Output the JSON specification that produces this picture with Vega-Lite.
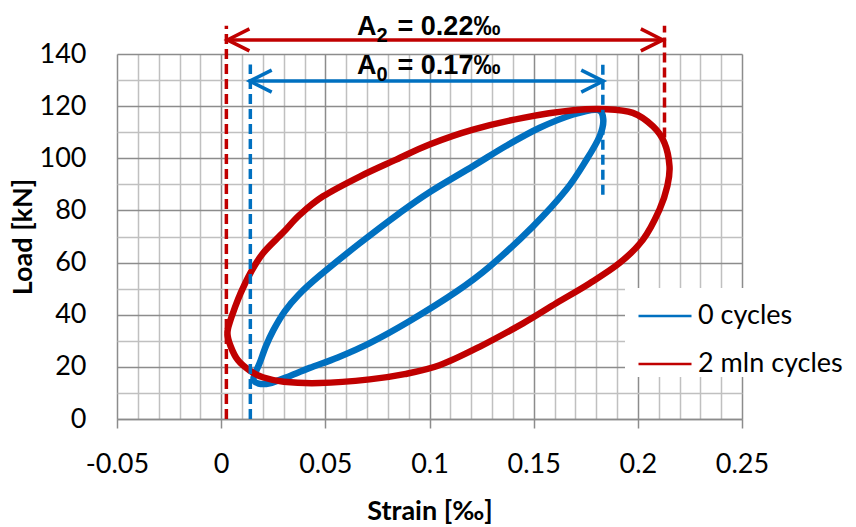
{
  "$schema": "https://vega.github.io/schema/vega-lite/v6.json",
  "width": 625,
  "height": 365,
  "autosize": {"type": "none"},
  "padding": {"left": 117, "top": 54, "right": 114, "bottom": 108},
  "background": "white",
  "config": {"view": {"stroke": null}, "font": "Lato"},
  "datasets": {
    "loops": [
      {"series": "0 cycles", "i": 1, "strain": 0.0155, "load": 15.5},
      {"series": "0 cycles", "i": 2, "strain": 0.0185, "load": 21.5},
      {"series": "0 cycles", "i": 3, "strain": 0.0215, "load": 28},
      {"series": "0 cycles", "i": 4, "strain": 0.025, "load": 34},
      {"series": "0 cycles", "i": 5, "strain": 0.0305, "load": 41.3},
      {"series": "0 cycles", "i": 6, "strain": 0.037, "load": 47.5},
      {"series": "0 cycles", "i": 7, "strain": 0.0473, "load": 55},
      {"series": "0 cycles", "i": 8, "strain": 0.0665, "load": 67.4},
      {"series": "0 cycles", "i": 9, "strain": 0.0856, "load": 79},
      {"series": "0 cycles", "i": 10, "strain": 0.1, "load": 87},
      {"series": "0 cycles", "i": 11, "strain": 0.1209, "load": 97},
      {"series": "0 cycles", "i": 12, "strain": 0.1369, "load": 104.8},
      {"series": "0 cycles", "i": 13, "strain": 0.1529, "load": 111.7},
      {"series": "0 cycles", "i": 14, "strain": 0.169, "load": 116.8},
      {"series": "0 cycles", "i": 15, "strain": 0.1805, "load": 118.6},
      {"series": "0 cycles", "i": 16, "strain": 0.1834, "load": 115},
      {"series": "0 cycles", "i": 17, "strain": 0.1817, "load": 108.5},
      {"series": "0 cycles", "i": 18, "strain": 0.1754, "load": 99.5},
      {"series": "0 cycles", "i": 19, "strain": 0.1657, "load": 88},
      {"series": "0 cycles", "i": 20, "strain": 0.1497, "load": 73.9},
      {"series": "0 cycles", "i": 21, "strain": 0.1289, "load": 58.5},
      {"series": "0 cycles", "i": 22, "strain": 0.1128, "load": 48.8},
      {"series": "0 cycles", "i": 23, "strain": 0.0905, "load": 37.6},
      {"series": "0 cycles", "i": 24, "strain": 0.0713, "load": 29.1},
      {"series": "0 cycles", "i": 25, "strain": 0.0560, "load": 23.6},
      {"series": "0 cycles", "i": 26, "strain": 0.0425, "load": 19.6},
      {"series": "0 cycles", "i": 27, "strain": 0.0313, "load": 16},
      {"series": "0 cycles", "i": 28, "strain": 0.0233, "load": 13.7},
      {"series": "0 cycles", "i": 29, "strain": 0.018, "load": 13.6},
      {"series": "2 mln cycles", "i": 1, "strain": 0.003, "load": 33},
      {"series": "2 mln cycles", "i": 2, "strain": 0.0045, "load": 38},
      {"series": "2 mln cycles", "i": 3, "strain": 0.0065, "load": 42.5},
      {"series": "2 mln cycles", "i": 4, "strain": 0.0092, "load": 48},
      {"series": "2 mln cycles", "i": 5, "strain": 0.0137, "load": 55.5},
      {"series": "2 mln cycles", "i": 6, "strain": 0.020, "load": 63.5},
      {"series": "2 mln cycles", "i": 7, "strain": 0.0297, "load": 71.5},
      {"series": "2 mln cycles", "i": 8, "strain": 0.0377, "load": 78.3},
      {"series": "2 mln cycles", "i": 9, "strain": 0.0489, "load": 85.4},
      {"series": "2 mln cycles", "i": 10, "strain": 0.0665, "load": 93},
      {"series": "2 mln cycles", "i": 11, "strain": 0.084, "load": 99.5},
      {"series": "2 mln cycles", "i": 12, "strain": 0.1, "load": 105.3},
      {"series": "2 mln cycles", "i": 13, "strain": 0.1209, "load": 111},
      {"series": "2 mln cycles", "i": 14, "strain": 0.1449, "load": 115.5},
      {"series": "2 mln cycles", "i": 15, "strain": 0.169, "load": 118.4},
      {"series": "2 mln cycles", "i": 16, "strain": 0.185, "load": 118.8},
      {"series": "2 mln cycles", "i": 17, "strain": 0.1976, "load": 117.4},
      {"series": "2 mln cycles", "i": 18, "strain": 0.2072, "load": 112.3},
      {"series": "2 mln cycles", "i": 19, "strain": 0.2128, "load": 105.9},
      {"series": "2 mln cycles", "i": 20, "strain": 0.2152, "load": 97},
      {"series": "2 mln cycles", "i": 21, "strain": 0.2142, "load": 89.5},
      {"series": "2 mln cycles", "i": 22, "strain": 0.2104, "load": 80.3},
      {"series": "2 mln cycles", "i": 23, "strain": 0.2024, "load": 68.7},
      {"series": "2 mln cycles", "i": 24, "strain": 0.1912, "load": 59.8},
      {"series": "2 mln cycles", "i": 25, "strain": 0.1768, "load": 52},
      {"series": "2 mln cycles", "i": 26, "strain": 0.1608, "load": 44.4},
      {"series": "2 mln cycles", "i": 27, "strain": 0.1449, "load": 36.7},
      {"series": "2 mln cycles", "i": 28, "strain": 0.124, "load": 27.7},
      {"series": "2 mln cycles", "i": 29, "strain": 0.1048, "load": 20.6},
      {"series": "2 mln cycles", "i": 30, "strain": 0.088, "load": 17.2},
      {"series": "2 mln cycles", "i": 31, "strain": 0.0713, "load": 15.2},
      {"series": "2 mln cycles", "i": 32, "strain": 0.0473, "load": 13.8},
      {"series": "2 mln cycles", "i": 33, "strain": 0.030, "load": 14.3},
      {"series": "2 mln cycles", "i": 34, "strain": 0.020, "load": 16},
      {"series": "2 mln cycles", "i": 35, "strain": 0.0137, "load": 18.6},
      {"series": "2 mln cycles", "i": 36, "strain": 0.008, "load": 22.6},
      {"series": "2 mln cycles", "i": 37, "strain": 0.0045, "load": 28}
    ],
    "vlines": [
      {"series": "2 mln cycles", "x": 0.0025, "y": 0, "y2": 150.8},
      {"series": "2 mln cycles", "x": 0.2128, "y": 108, "y2": 150.8},
      {"series": "0 cycles", "x": 0.014, "y": 0, "y2": 136},
      {"series": "0 cycles", "x": 0.1832, "y": 86, "y2": 136}
    ],
    "arrows": [
      {"series": "2 mln cycles", "x": 0.003, "x2": 0.212, "y": 145.4},
      {"series": "0 cycles", "x": 0.0137, "x2": 0.1834, "y": 129.6}
    ],
    "heads": [
      {"series": "2 mln cycles", "end": "start", "x": 0.003, "y": 145.4},
      {"series": "2 mln cycles", "end": "end", "x": 0.212, "y": 145.4},
      {"series": "0 cycles", "end": "start", "x": 0.0137, "y": 129.6},
      {"series": "0 cycles", "end": "end", "x": 0.1834, "y": 129.6}
    ],
    "labels": [
      {"part": "base", "text": "A", "x": 0.0746, "y": 147.2},
      {"part": "sub", "text": "2", "x": 0.0746, "y": 147.2},
      {"part": "rest", "text": "= 0.22\u2030", "x": 0.0746, "y": 147.2},
      {"part": "base", "text": "A", "x": 0.0746, "y": 132.2},
      {"part": "sub", "text": "0", "x": 0.0746, "y": 132.2},
      {"part": "rest", "text": "= 0.17\u2030", "x": 0.0746, "y": 132.2}
    ]
  },
  "resolve": {"axis": {"x": "independent", "y": "independent"}},
  "layer": [
    {
      "data": {"name": "loops"},
      "mark": {"type": "line", "interpolate": "cardinal-closed", "strokeWidth": 6.5, "strokeJoin": "round"},
      "encoding": {
        "x": {
          "field": "strain", "type": "quantitative",
          "scale": {"domain": [-0.05, 0.25], "nice": false, "zero": false},
          "axis": {
            "orient": "bottom",
            "values": [-0.05, 0, 0.05, 0.1, 0.15, 0.2, 0.25],
            "labelExpr": "replace(format(datum.value, '~g'), '\u2212', '-')",
            "grid": true, "gridColor": "#8c8c8c", "gridWidth": 1.5, "gridOpacity": 1,
            "domain": true, "domainColor": "#8c8c8c", "domainWidth": 1.5,
            "ticks": true, "tickColor": "#8c8c8c", "tickWidth": 1.5, "tickSize": 9,
            "labelFont": "Lato", "labelFontSize": 27, "labelColor": "#000000", "labelPadding": 23,
            "labelFlush": false, "labelOverlap": false,
            "title": "Strain [\u2030]", "titleFont": "Lato", "titleFontSize": 27, "titleFontWeight": "bold",
            "titleColor": "#000000", "titlePadding": 21
          }
        },
        "y": {
          "field": "load", "type": "quantitative",
          "scale": {"domain": [0, 140], "nice": false},
          "axis": {
            "orient": "left",
            "values": [0, 20, 40, 60, 80, 100, 120, 140],
            "grid": true, "gridColor": "#8c8c8c", "gridWidth": 1.5, "gridOpacity": 1,
            "domain": false, "ticks": false, "tickSize": 0,
            "labelFont": "Lato", "labelFontSize": 27, "labelColor": "#000000", "labelPadding": 31,
            "labelFlush": false, "labelOverlap": false,
            "title": "Load [kN]", "titleFont": "Lato", "titleFontSize": 27, "titleFontWeight": "bold",
            "titleColor": "#000000", "titlePadding": 2
          }
        },
        "order": {"field": "i", "type": "quantitative"},
        "color": {
          "field": "series", "type": "nominal",
          "scale": {"domain": ["0 cycles", "2 mln cycles"], "range": ["#0070C0", "#C00000"]},
          "legend": {
            "orient": "none", "legendX": 508, "legendY": 234, "title": null,
            "symbolType": "stroke", "symbolSize": 2809, "symbolStrokeWidth": 2.5,
            "labelFont": "Lato", "labelFontSize": 27, "labelColor": "#000000",
            "fillColor": "white", "padding": 0, "symbolOffset": 12, "rowPadding": 7, "labelOffset": 5
          }
        }
      }
    },
    {
      "data": {"name": "vlines"},
      "mark": {"type": "rule", "strokeDash": [10, 5], "strokeWidth": 3.5},
      "encoding": {
        "x": {
          "field": "x", "type": "quantitative",
          "scale": {"domain": [-0.05, 0.25], "nice": false, "zero": false},
          "axis": {
            "orient": "top",
            "values": [-0.04, -0.03, -0.02, -0.01, 0.01, 0.02, 0.03, 0.04, 0.06, 0.07, 0.08, 0.09, 0.11, 0.12, 0.13, 0.14, 0.16, 0.17, 0.18, 0.19, 0.21, 0.22, 0.23, 0.24],
            "grid": true, "gridColor": "#c0c0c0", "gridWidth": 1.5, "gridOpacity": 1,
            "domain": false, "ticks": false, "labels": false, "title": null
          }
        },
        "y": {
          "field": "y", "type": "quantitative",
          "scale": {"domain": [0, 140], "nice": false},
          "axis": {
            "orient": "right",
            "values": [10, 30, 50, 70, 90, 110, 130],
            "grid": true, "gridColor": "#c0c0c0", "gridWidth": 1.5, "gridOpacity": 1,
            "domain": false, "ticks": false, "labels": false, "title": null
          }
        },
        "y2": {"field": "y2"},
        "color": {"field": "series", "type": "nominal", "legend": null}
      }
    },
    {
      "data": {"name": "arrows"},
      "mark": {"type": "rule", "strokeWidth": 3.5},
      "encoding": {
        "x": {"field": "x", "type": "quantitative", "scale": {"domain": [-0.05, 0.25], "nice": false, "zero": false}, "axis": null},
        "x2": {"field": "x2"},
        "y": {"field": "y", "type": "quantitative", "scale": {"domain": [0, 140], "nice": false}, "axis": null},
        "color": {"field": "series", "type": "nominal", "legend": null}
      }
    },
    {
      "data": {"name": "heads"},
      "mark": {"type": "point", "filled": false, "strokeWidth": 3.5, "size": 1936, "opacity": 1, "strokeJoin": "miter"},
      "encoding": {
        "x": {"field": "x", "type": "quantitative", "scale": {"domain": [-0.05, 0.25], "nice": false, "zero": false}, "axis": null},
        "y": {"field": "y", "type": "quantitative", "scale": {"domain": [0, 140], "nice": false}, "axis": null},
        "shape": {
          "field": "end", "type": "nominal",
          "scale": {"domain": ["start", "end"], "range": ["M1,-0.5L0,0L1,0.5", "M-1,-0.5L0,0L-1,0.5"]},
          "legend": null
        },
        "color": {"field": "series", "type": "nominal", "legend": null}
      }
    },
    {
      "data": {"name": "labels"},
      "transform": [{"filter": "datum.part === 'base'"}],
      "mark": {"type": "text", "font": "Liberation Sans", "fontWeight": "bold", "fontSize": 27, "align": "right", "baseline": "alphabetic", "color": "#000000"},
      "encoding": {
        "x": {"field": "x", "type": "quantitative", "scale": {"domain": [-0.05, 0.25], "nice": false, "zero": false}, "axis": null},
        "y": {"field": "y", "type": "quantitative", "scale": {"domain": [0, 140], "nice": false}, "axis": null},
        "text": {"field": "text"}
      }
    },
    {
      "data": {"name": "labels"},
      "transform": [{"filter": "datum.part === 'sub'"}],
      "mark": {"type": "text", "font": "Liberation Sans", "fontWeight": "bold", "fontSize": 20, "align": "left", "baseline": "alphabetic", "dx": 0, "dy": 7, "color": "#000000"},
      "encoding": {
        "x": {"field": "x", "type": "quantitative", "scale": {"domain": [-0.05, 0.25], "nice": false, "zero": false}, "axis": null},
        "y": {"field": "y", "type": "quantitative", "scale": {"domain": [0, 140], "nice": false}, "axis": null},
        "text": {"field": "text"}
      }
    },
    {
      "data": {"name": "labels"},
      "transform": [{"filter": "datum.part === 'rest'"}],
      "mark": {"type": "text", "font": "Liberation Sans", "fontWeight": "bold", "fontSize": 27, "align": "left", "baseline": "alphabetic", "dx": 21, "color": "#000000"},
      "encoding": {
        "x": {"field": "x", "type": "quantitative", "scale": {"domain": [-0.05, 0.25], "nice": false, "zero": false}, "axis": null},
        "y": {"field": "y", "type": "quantitative", "scale": {"domain": [0, 140], "nice": false}, "axis": null},
        "text": {"field": "text"}
      }
    }
  ]
}
